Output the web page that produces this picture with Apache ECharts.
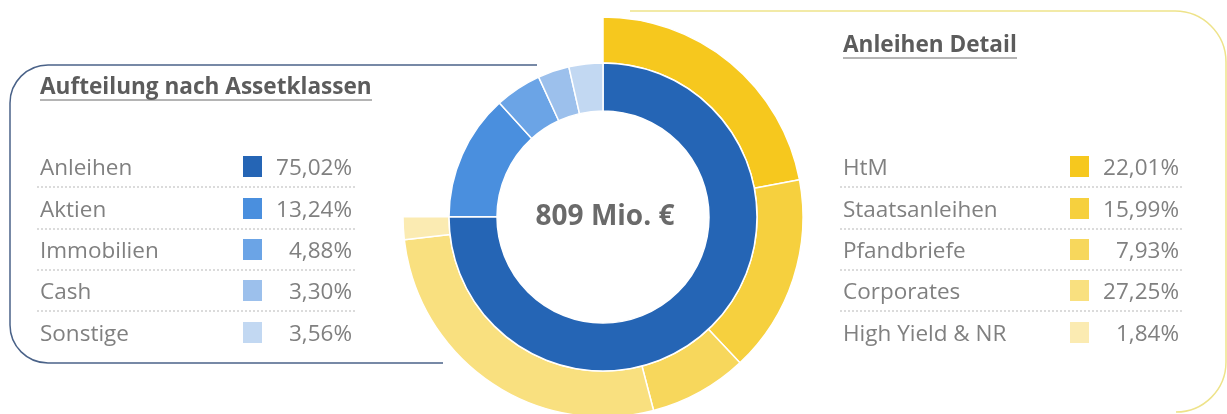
<!DOCTYPE html>
<html>
<head>
<meta charset="utf-8">
<script src="https://cdn.jsdelivr.net/npm/echarts@6/dist/echarts.min.js"></script>
<style>
  html, body { margin: 0; padding: 0; background: #fff; }
  #main { width: 1227px; height: 414px; }
</style>
</head>
<body>
<div id="main"></div>
<script>
// Aufteilung nach Assetklassen (inner ring)
var assetNames = ['Anleihen', 'Aktien', 'Immobilien', 'Cash', 'Sonstige'];
var assetValues = [75.02, 13.24, 4.88, 3.30, 3.56];
var assetColors = ['#2565b5', '#4a8fde', '#6ba4e6', '#9cc0ec', '#c2d8f2'];

// Anleihen Detail (outer ring, only covers the Anleihen share)
var bondNames = ['HtM', 'Staatsanleihen', 'Pfandbriefe', 'Corporates', 'High Yield & NR'];
var bondValues = [22.01, 15.99, 7.93, 27.25, 1.84];
var bondColors = ['#f6c81e', '#f6d03e', '#f7d75c', '#f9e07f', '#fbebb2'];

var totalLabel = '809 Mio. €';

var chart = echarts.init(document.getElementById('main'));

function fmt(v) {
  return v.toFixed(2).replace('.', ',') + '%';
}

// legend blocks (text, square, value, dotted separator)
function legendBlock(x, valueRight, sqX, names, values, colors) {
  var els = [];
  var rowY = [169, 211, 252, 293, 335];
  for (var i = 0; i < names.length; i++) {
    els.push({
      type: 'text', x: x, y: rowY[i],
      style: { text: names[i], fill: '#808080', font: '22.5px "Open Sans", sans-serif', verticalAlign: 'middle' }
    });
    els.push({
      type: 'rect', shape: { x: sqX, y: rowY[i] - 13, width: 19, height: 21 },
      style: { fill: colors[i] }
    });
    els.push({
      type: 'text', x: valueRight, y: rowY[i],
      style: { text: fmt(values[i]), fill: '#808080', font: '22.5px "Open Sans", sans-serif', align: 'right', verticalAlign: 'middle' }
    });
    if (i < names.length - 1) {
      els.push({
        type: 'line', shape: { x1: x - 3, y1: rowY[i] + 18, x2: valueRight + 5, y2: rowY[i] + 18 },
        style: { stroke: '#b8b8b8', lineWidth: 1, lineDash: [2, 2] }
      });
    }
  }
  return els;
}

function seg(x1, y1, x2, y2, color) {
  return { type: 'line', shape: { x1: x1, y1: y1, x2: x2, y2: y2 }, style: { stroke: color, lineWidth: 1.5 } };
}
function corner(cx, cy, r, a0, a1, color) {
  return { type: 'arc', shape: { cx: cx, cy: cy, r: r, startAngle: a0, endAngle: a1, clockwise: true },
    style: { stroke: color, lineWidth: 1.5, fill: null } };
}

var bondSum = 0;
for (var i = 0; i < bondValues.length; i++) bondSum += bondValues[i];
var outerData = [];
for (var i = 0; i < bondNames.length; i++) {
  outerData.push({ name: bondNames[i], value: bondValues[i], itemStyle: { color: bondColors[i] } });
}
// rest of the circle stays empty
outerData.push({ name: 'rest', value: 100 - bondSum, itemStyle: { color: 'rgba(0,0,0,0)', borderWidth: 0 } });

var innerData = [];
for (var i = 0; i < assetNames.length; i++) {
  innerData.push({ name: assetNames[i], value: assetValues[i], itemStyle: { color: assetColors[i] } });
}

var PI = Math.PI;
var blueLine = '#4a6288';
var yellowLine = '#eee38a';
var graphics = [
  // left frame
  seg(537, 65, 48, 65, blueLine),
  corner(48, 103, 38, PI, 1.5 * PI, blueLine),
  seg(10, 103, 10, 325, blueLine),
  corner(48, 325, 38, 0.5 * PI, PI, blueLine),
  seg(48, 363, 443, 363, blueLine),
  // right frame
  seg(630, 11, 1175, 11, yellowLine),
  corner(1175, 62, 51, 1.5 * PI, 2 * PI, yellowLine),
  seg(1226, 62, 1226, 362, yellowLine),
  corner(1176, 362, 50, 0, 0.5 * PI, yellowLine),
  {
    type: 'text', x: 40, y: 88,
    style: { text: 'Aufteilung nach Assetklassen', fill: '#5c5c5c', font: 'bold 22.6px "Open Sans", sans-serif', verticalAlign: 'middle' }
  },
  {
    type: 'line', shape: { x1: 40, y1: 100, x2: 372, y2: 100 },
    style: { stroke: '#6a6a6a', lineWidth: 1 }
  },
  {
    type: 'text', x: 843, y: 46,
    style: { text: 'Anleihen Detail', fill: '#5c5c5c', font: 'bold 22.6px "Open Sans", sans-serif', verticalAlign: 'middle' }
  },
  {
    type: 'line', shape: { x1: 843, y1: 58, x2: 1017, y2: 58 },
    style: { stroke: '#6a6a6a', lineWidth: 1 }
  },
  {
    type: 'text', x: 605, y: 217,
    style: { text: totalLabel, fill: '#6a6a6a', font: 'bold 28px "Open Sans", sans-serif', align: 'center', verticalAlign: 'middle' }
  }
];
graphics = graphics.concat(legendBlock(40, 352, 243, assetNames, assetValues, assetColors));
graphics = graphics.concat(legendBlock(843, 1179, 1070, bondNames, bondValues, bondColors));

var option = {
  animation: false,
  graphic: graphics,
  series: [
    {
      type: 'pie',
      name: 'Anleihen Detail',
      center: [603, 217],
      radius: [154, 200],
      startAngle: 90,
      clockwise: true,
      label: { show: false },
      labelLine: { show: false },
      itemStyle: { borderColor: '#fff', borderWidth: 1.5 },
      data: outerData
    },
    {
      type: 'pie',
      name: 'Aufteilung nach Assetklassen',
      center: [603, 217],
      radius: [106, 154],
      startAngle: 90,
      clockwise: true,
      label: { show: false },
      labelLine: { show: false },
      itemStyle: { borderColor: '#fff', borderWidth: 1.5 },
      data: innerData
    }
  ]
};

chart.setOption(option);
</script>
</body>
</html>
